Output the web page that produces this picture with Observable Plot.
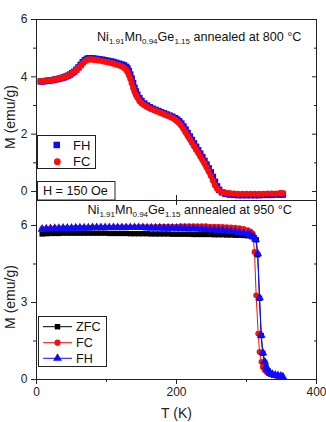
<!DOCTYPE html>
<html><head><meta charset="utf-8">
<script src="https://cdn.jsdelivr.net/npm/d3@7"></script>
<script src="https://cdn.jsdelivr.net/npm/@observablehq/plot@0.6"></script>
<style>
html,body{margin:0;padding:0;background:#fff;}
#chart{position:relative;width:326px;height:422px;}
#chart svg{position:absolute;left:0;display:block;overflow:visible;}
</style></head><body><div id="chart"></div>
<script>
// ---------- Top panel: annealed at 800 °C ----------
const topT = [6,9,12,15,18,21,24,27,30,33,36,39,42,45,48,51,54,57,60,63,66,69,72,75,78,81,84,87,90,94,98,102,106,110,114,118,122,125,128,130,132,134,136,138,140,142,144,147,150,154,158,162,166,170,174,178,182,186,190,194,198,201,204,207,210,213,216,219,222,225,228,231,234,237,240,243,246,249,252,255,258,261,265,270,276,282,288,294,300,306,312,318,324,330,336,342,348,352];
const topFC = [3.85,3.85,3.86,3.87,3.88,3.89,3.90,3.92,3.93,3.95,3.97,3.99,4.02,4.05,4.09,4.13,4.18,4.24,4.31,4.39,4.47,4.54,4.59,4.61,4.61,4.60,4.59,4.58,4.57,4.55,4.53,4.51,4.49,4.46,4.43,4.40,4.36,4.32,4.25,4.17,4.06,3.93,3.78,3.62,3.48,3.37,3.28,3.16,3.08,3.01,2.95,2.90,2.86,2.82,2.78,2.74,2.70,2.66,2.62,2.57,2.51,2.45,2.38,2.29,2.18,2.06,1.94,1.82,1.70,1.58,1.46,1.34,1.22,1.10,0.97,0.84,0.70,0.55,0.38,0.22,0.10,0.03,-0.02,-0.04,-0.06,-0.07,-0.08,-0.08,-0.08,-0.08,-0.08,-0.08,-0.08,-0.07,-0.07,-0.07,-0.06,-0.06];
const topFH = [3.84,3.84,3.85,3.86,3.87,3.88,3.89,3.91,3.92,3.94,3.96,3.98,4.01,4.04,4.08,4.13,4.18,4.25,4.33,4.42,4.51,4.58,4.63,4.65,4.65,4.64,4.63,4.62,4.61,4.60,4.58,4.56,4.54,4.52,4.49,4.46,4.43,4.40,4.35,4.29,4.20,4.08,3.94,3.78,3.62,3.49,3.38,3.26,3.16,3.07,3.00,2.94,2.89,2.85,2.81,2.77,2.73,2.69,2.65,2.61,2.56,2.51,2.45,2.37,2.27,2.16,2.04,1.92,1.80,1.68,1.56,1.44,1.32,1.20,1.07,0.94,0.81,0.67,0.51,0.34,0.18,0.06,-0.03,-0.08,-0.11,-0.12,-0.13,-0.13,-0.13,-0.13,-0.13,-0.13,-0.12,-0.12,-0.12,-0.11,-0.11,-0.11];

// ---------- Bottom panel: annealed at 950 °C ----------
const plateauT = [8,14,20,26,32,38,44,50,56,62,68,74,80,86,92,98,104,110,116,122,128,134,140,146,152,158,164,170,176,182,188,194,200,206,212,218,224,230,236,242,248,254,260,266,272,278,284,290,296,302];
const zfcPlateau = [5.67,5.68,5.69,5.69,5.69,5.70,5.70,5.70,5.70,5.70,5.70,5.70,5.70,5.70,5.70,5.70,5.69,5.69,5.69,5.69,5.69,5.68,5.68,5.68,5.68,5.68,5.67,5.67,5.67,5.67,5.67,5.66,5.66,5.66,5.66,5.66,5.65,5.65,5.65,5.65,5.65,5.64,5.64,5.64,5.63,5.63,5.62,5.62,5.61,5.60];
const fcPlateau = [5.87,5.88,5.89,5.90,5.90,5.91,5.91,5.91,5.92,5.92,5.92,5.92,5.93,5.93,5.93,5.93,5.93,5.93,5.94,5.94,5.94,5.94,5.94,5.95,5.95,5.95,5.95,5.95,5.96,5.96,5.96,5.96,5.96,5.97,5.97,5.97,5.97,5.97,5.97,5.97,5.96,5.96,5.96,5.95,5.94,5.93,5.92,5.90,5.87,5.82];
const fhPlateau = [5.86,5.87,5.88,5.89,5.89,5.90,5.90,5.90,5.91,5.91,5.91,5.91,5.92,5.92,5.92,5.92,5.92,5.92,5.92,5.92,5.92,5.92,5.92,5.92,5.92,5.91,5.91,5.91,5.91,5.90,5.90,5.90,5.90,5.89,5.89,5.88,5.88,5.87,5.86,5.85,5.84,5.83,5.82,5.81,5.79,5.77,5.76,5.73,5.70,5.67];
const zfcDropT = [307,311,314,316,318.6,321,323.3,326,328,331,334,338,342,346,350];
const zfcDropM = [5.57,5.52,5.44,4.86,3.16,1.71,1.02,0.67,0.47,0.33,0.24,0.19,0.16,0.14,0.11];
const fcDropT = [306,309,311.4,313.8,316.7,318.6,321.4,323.3,326,329,333,338,344,350];
const fcDropM = [5.76,5.68,4.97,3.28,1.79,1.08,0.69,0.49,0.37,0.29,0.22,0.17,0.13,0.10];
const fhDropT = [306,310,313,316,318.6,321,323.3,326,328,330,332,334,337,341,345,349,352];
const fhDropM = [5.62,5.56,5.47,4.90,3.19,1.73,1.04,0.69,0.49,0.38,0.30,0.24,0.20,0.17,0.15,0.13,0.10];

const FONT = '"Liberation Sans", Arial, Helvetica, sans-serif';
const BLUE = "#0d0dfa", RED = "#fa0d0d", BLACK = "#000";
const INK = "#222";

const topData = topT.map((T, i) => ({T, fc: topFC[i], fh: topFH[i]}));
const mk = (Ts, Ms) => Ts.map((T, i) => ({T, M: Ms[i]}));
const zfcData = mk(plateauT.concat(zfcDropT), zfcPlateau.concat(zfcDropM));
const fcData = mk(plateauT.concat(fcDropT), fcPlateau.concat(fcDropM));
const fhData = mk(plateauT.concat(fhDropT), fhPlateau.concat(fhDropM));

const blank = () => "";
const intFmt = d => String(d);
const chart = document.getElementById("chart");

const yLabel = () => Plot.text(["M (emu/g)"], {text: d => d, frameAnchor: "left", textAnchor: "middle", lineAnchor: "middle", rotate: -90, dx: -26, dy: 7, fontSize: 14, fill: INK});

const topPlot = Plot.plot({
  width: 326, height: 200,
  marginLeft: 36, marginRight: 10, marginTop: 19, marginBottom: 0,
  style: {fontFamily: FONT, fontSize: "12px", color: INK, background: "transparent", overflow: "visible"},
  x: {domain: [0, 400]},
  y: {domain: [-0.314, 6]},
  marks: [
    Plot.dot(topData, {x: "T", y: "fh", symbol: "square", r: 3.6, fill: BLUE}),
    Plot.dot(topData, {x: "T", y: "fc", symbol: "circle", r: 3.1, fill: RED}),
    Plot.frame({stroke: INK}),
    Plot.axisY({ticks: [0, 2, 4, 6], tickSize: 5, tickPadding: 4, tickFormat: intFmt, label: null, fontSize: 12}),
    Plot.axisY({ticks: [1, 3, 5], tickSize: 3, tickFormat: blank, label: null}),
    Plot.axisY({anchor: "right", ticks: [0, 2, 4, 6], tickSize: -5, tickFormat: blank, label: null}),
    Plot.axisY({anchor: "right", ticks: [1, 3, 5], tickSize: -3, tickFormat: blank, label: null}),
    Plot.axisX({anchor: "bottom", ticks: [200], tickSize: -5, tickFormat: blank, label: null}),
    yLabel()
  ]
});
topPlot.style.top = "0px";
chart.appendChild(topPlot);

const botPlot = Plot.plot({
  width: 326, height: 222,
  marginLeft: 36, marginRight: 10, marginTop: 0, marginBottom: 43,
  style: {fontFamily: FONT, fontSize: "12px", color: INK, background: "transparent", overflow: "visible"},
  x: {domain: [0, 400]},
  y: {domain: [0, 6.974]},
  marks: [
    Plot.line(zfcData, {x: "T", y: "M", stroke: BLACK, strokeWidth: 1}),
    Plot.dot(zfcData, {x: "T", y: "M", symbol: "square", r: 3.0, fill: BLACK}),
    Plot.line(fcData, {x: "T", y: "M", stroke: RED, strokeWidth: 1}),
    Plot.dot(fcData, {x: "T", y: "M", symbol: "circle", r: 2.9, fill: RED}),
    Plot.line(fhData, {x: "T", y: "M", stroke: BLUE, strokeWidth: 1}),
    Plot.dot(fhData, {x: "T", y: "M", symbol: "triangle", r: 3.3, fill: BLUE}),
    Plot.frame({stroke: INK}),
    Plot.axisY({ticks: [0, 3, 6], tickSize: 5, tickPadding: 4, tickFormat: intFmt, label: null, fontSize: 12}),
    Plot.axisY({ticks: [1.5, 4.5], tickSize: 3, tickFormat: blank, label: null}),
    Plot.axisY({anchor: "right", ticks: [0, 3, 6], tickSize: -5, tickFormat: blank, label: null}),
    Plot.axisY({anchor: "right", ticks: [1.5, 4.5], tickSize: -3, tickFormat: blank, label: null}),
    Plot.axisX({anchor: "bottom", ticks: [0, 200, 400], tickSize: 5, tickPadding: 3, tickFormat: intFmt, label: null, fontSize: 12}),
    Plot.axisX({anchor: "bottom", ticks: [100, 300], tickSize: 3, tickFormat: blank, label: null}),
    Plot.axisX({anchor: "top", ticks: [200], tickSize: -4, tickFormat: blank, label: null}),
    yLabel(),
    Plot.text(["T (K)"], {text: d => d, frameAnchor: "bottom", textAnchor: "middle", lineAnchor: "middle", dy: 34, fontSize: 14, fill: INK})
  ]
});
botPlot.style.top = "200px";
chart.appendChild(botPlot);

// ---------- titles with subscripts ----------
function formula(svg, x, y, tail) {
  const t = d3.select(svg).append("text").attr("x", x).attr("y", y)
    .attr("text-anchor", "start")
    .attr("font-family", FONT).attr("font-size", 12.6).attr("fill", "#111")
    .style("white-space", "pre");
  const parts = [["Ni", 0], ["1.91", 1], ["Mn", 0], ["0.94", 1], ["Ge", 0], ["1.15", 1], [tail, 0]];
  let sub = 0;
  for (const [s, isSub] of parts) {
    const ts = t.append("tspan").text(s);
    if (isSub) ts.attr("font-size", 8);
    if (isSub && !sub) ts.attr("dy", 3);
    if (!isSub && sub) ts.attr("dy", -3);
    sub = isSub;
  }
}
formula(topPlot, 97, 40.5, " annealed at 800 \u00B0C");
formula(botPlot, 87.5, 14, " annealed at 950 \u00B0C");

// ---------- legends ----------
function txt(sel, x, y, s, size) {
  sel.append("text").attr("x", x).attr("y", y).attr("dy", "0.36em")
    .attr("text-anchor", "start")
    .attr("font-family", FONT).attr("font-size", size).attr("fill", "#111").text(s);
}
{
  const g = d3.select(topPlot).append("g");
  g.append("rect").attr("x", 37.5).attr("y", 135.5).attr("width", 58).attr("height", 33)
    .attr("fill", "white").attr("stroke", INK);
  g.append("rect").attr("x", 53.5).attr("y", 141.7).attr("width", 6.5).attr("height", 6.5).attr("fill", BLUE);
  txt(g, 73, 145, "FH", 13);
  g.append("circle").attr("cx", 57.3).attr("cy", 161.7).attr("r", 3.4).attr("fill", RED);
  txt(g, 73, 161.7, "FC", 13);
  g.append("rect").attr("x", 37.5).attr("y", 181.5).attr("width", 77.5).attr("height", 18.5)
    .attr("fill", "white").attr("stroke", INK);
  txt(g, 43, 190.7, "H = 150 Oe", 12.6);
}
{
  const g = d3.select(botPlot).append("g");
  g.append("rect").attr("x", 38.5).attr("y", 116.5).attr("width", 68).attr("height", 50)
    .attr("fill", "white").attr("stroke", INK);
  const items = [["ZFC", BLACK, d3.symbolSquare, 30], ["FC", RED, d3.symbolCircle, 30], ["FH", BLUE, d3.symbolTriangle, 34]];
  const ys = [126.7, 142.7, 158.3];
  items.forEach(([name, color, sym, size], i) => {
    const y = ys[i];
    g.append("line").attr("x1", 43).attr("x2", 72).attr("y1", y).attr("y2", y).attr("stroke", color).attr("stroke-width", 1);
    g.append("path").attr("d", d3.symbol(sym, size)()).attr("transform", `translate(57.5,${y})`).attr("fill", color);
    txt(g, 76, y, name, 12.6);
  });
}
</script></body></html>
